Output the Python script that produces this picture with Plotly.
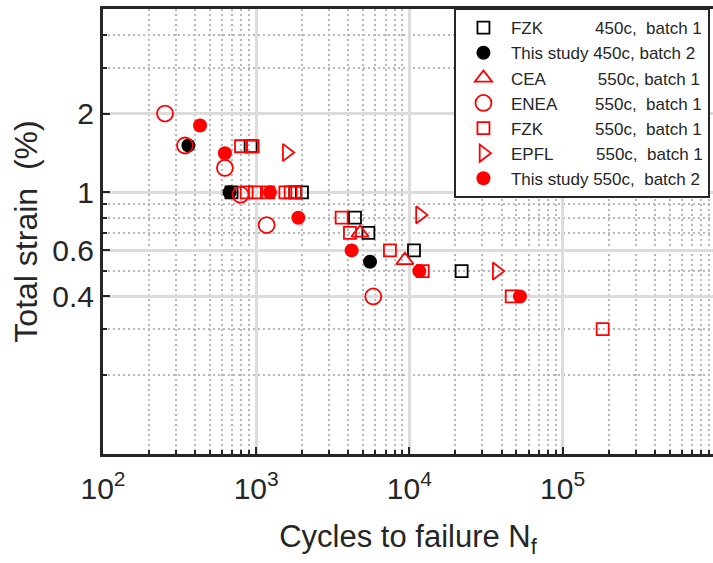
import plotly.graph_objects as go

NB = "\u00a0"

# ---------------- data ----------------
fzk450_n = [920, 690, 1800, 1990, 4415, 5400, 10720, 21930]
fzk450_s = [1.5, 1.0, 1.0, 1.0, 0.8, 0.7, 0.6, 0.5]

study450_n = [361, 670, 5535]
study450_s = [1.51, 1.0, 0.543]

cea550_n = [4763, 9350]
cea550_s = [0.70, 0.55]

enea550_n = [254, 343, 625, 790, 1170, 5810]
enea550_s = [2.0, 1.51, 1.24, 0.98, 0.75, 0.40]

fzk550_n = [796, 948, 866, 981, 1200, 1550, 1680, 1800, 3613, 4093, 7468, 12220, 46560, 182700]
fzk550_s = [1.5, 1.5, 1.0, 1.0, 1.0, 1.0, 1.0, 1.0, 0.8, 0.7, 0.6, 0.5, 0.4, 0.3]

epfl550_n = [1582, 11720, 37150]
epfl550_s = [1.42, 0.82, 0.5]

study550_n = [430, 625, 1230, 1884, 4197, 11610, 52700]
study550_s = [1.80, 1.41, 1.0, 0.80, 0.60, 0.50, 0.40]

x_tickvals = [1e2, 1e3, 1e4, 1e5]
x_ticktext = ["10<sup>2</sup>", "10<sup>3</sup>", "10<sup>4</sup>", "10<sup>5</sup>"]
y_tickvals = [0.4, 0.6, 1, 2]
y_ticktext = ["0.4", "0.6", "1", "2"]
y_minorvals = [0.2, 0.3, 0.5, 0.7, 0.8, 0.9, 3, 4]

names = [
    "FZK" + NB * 11 + "450c," + NB * 2 + "batch 1",
    "This study 450c, batch 2",
    "CEA" + NB * 11 + "550c, batch 1",
    "ENEA" + NB * 8 + "550c," + NB * 2 + "batch 1",
    "FZK" + NB * 11 + "550c," + NB * 2 + "batch 1",
    "EPFL" + NB * 9 + "550c," + NB * 2 + "batch 1",
    "This study 550c," + NB * 2 + "batch 2",
]

RED = "#ff0000"
BLK = "#000000"
FONT = "Liberation Sans, Arial, sans-serif"
AX = "#262626"

fig = go.Figure()

def add(xs, ys, name, symbol, color, size, filled):
    fig.add_trace(go.Scatter(
        x=xs, y=ys, mode="markers", name=name,
        marker=dict(symbol=symbol, size=size,
                    color=color if filled else "rgba(0,0,0,0)",
                    line=dict(color=color, width=0 if filled else 1.8)),
    ))

add(fzk450_n, fzk450_s, names[0], "square", BLK, 12, False)
add(study450_n, study450_s, names[1], "circle", BLK, 14, True)
add(cea550_n, cea550_s, names[2], "triangle-up", RED, 15, False)
add(enea550_n, enea550_s, names[3], "circle", RED, 16, False)
add(fzk550_n, fzk550_s, names[4], "square", RED, 12, False)
add(epfl550_n, epfl550_s, names[5], "triangle-right", RED, 15, False)
add(study550_n, study550_s, names[6], "circle", RED, 14, True)

fig.update_layout(
    width=713, height=563, autosize=False,
    margin=dict(l=103, r=0, t=9, b=109),
    paper_bgcolor="white", plot_bgcolor="white",
    font=dict(family=FONT, color=AX),
    showlegend=True,
    legend=dict(
        x=0.995, xanchor="right", y=1.002, yanchor="top",
        bgcolor="white", bordercolor=AX, borderwidth=2,
        font=dict(family=FONT, size=17, color=AX),
        itemwidth=45,
    ),
    xaxis=dict(
        type="log", range=[2, 5.982],
        tickvals=x_tickvals, ticktext=x_ticktext,
        tickfont=dict(size=30, family=FONT, color=AX),
        ticks="inside", ticklen=7, tickwidth=2, tickcolor=AX,
        ticklabelstandoff=6,
        showline=True, linecolor=AX, linewidth=3, mirror=True,
        showgrid=True, gridcolor="#dcdcdc", gridwidth=2.5,
        zeroline=False,
        minor=dict(dtick="D1", ticks="inside", ticklen=4, tickwidth=2, tickcolor=AX,
                   showgrid=True, gridcolor="#b8b8b8", griddash="2px,3px", gridwidth=2),
        title=dict(text="Cycles to failure N<sub>f</sub>", font=dict(size=31, family=FONT, color=AX),
                   standoff=22),
    ),
    yaxis=dict(
        type="log", range=[-1, 0.7007],
        tickvals=y_tickvals, ticktext=y_ticktext,
        tickfont=dict(size=30, family=FONT, color=AX),
        ticks="inside", ticklen=7, tickwidth=2, tickcolor=AX,
        showline=True, linecolor=AX, linewidth=3, mirror=False,
        showgrid=True, gridcolor="#dcdcdc", gridwidth=2.5,
        zeroline=False,
        minor=dict(tickmode="array", tickvals=y_minorvals, ticks="inside", ticklen=4, tickwidth=2,
                   tickcolor=AX, showgrid=True, gridcolor="#b8b8b8", griddash="2px,3px", gridwidth=2),
        title=dict(text="Total strain" + NB * 2 + "(%)", font=dict(size=32, family=FONT, color=AX),
                   standoff=6),
    ),
)

fig.write_html("out.html")
